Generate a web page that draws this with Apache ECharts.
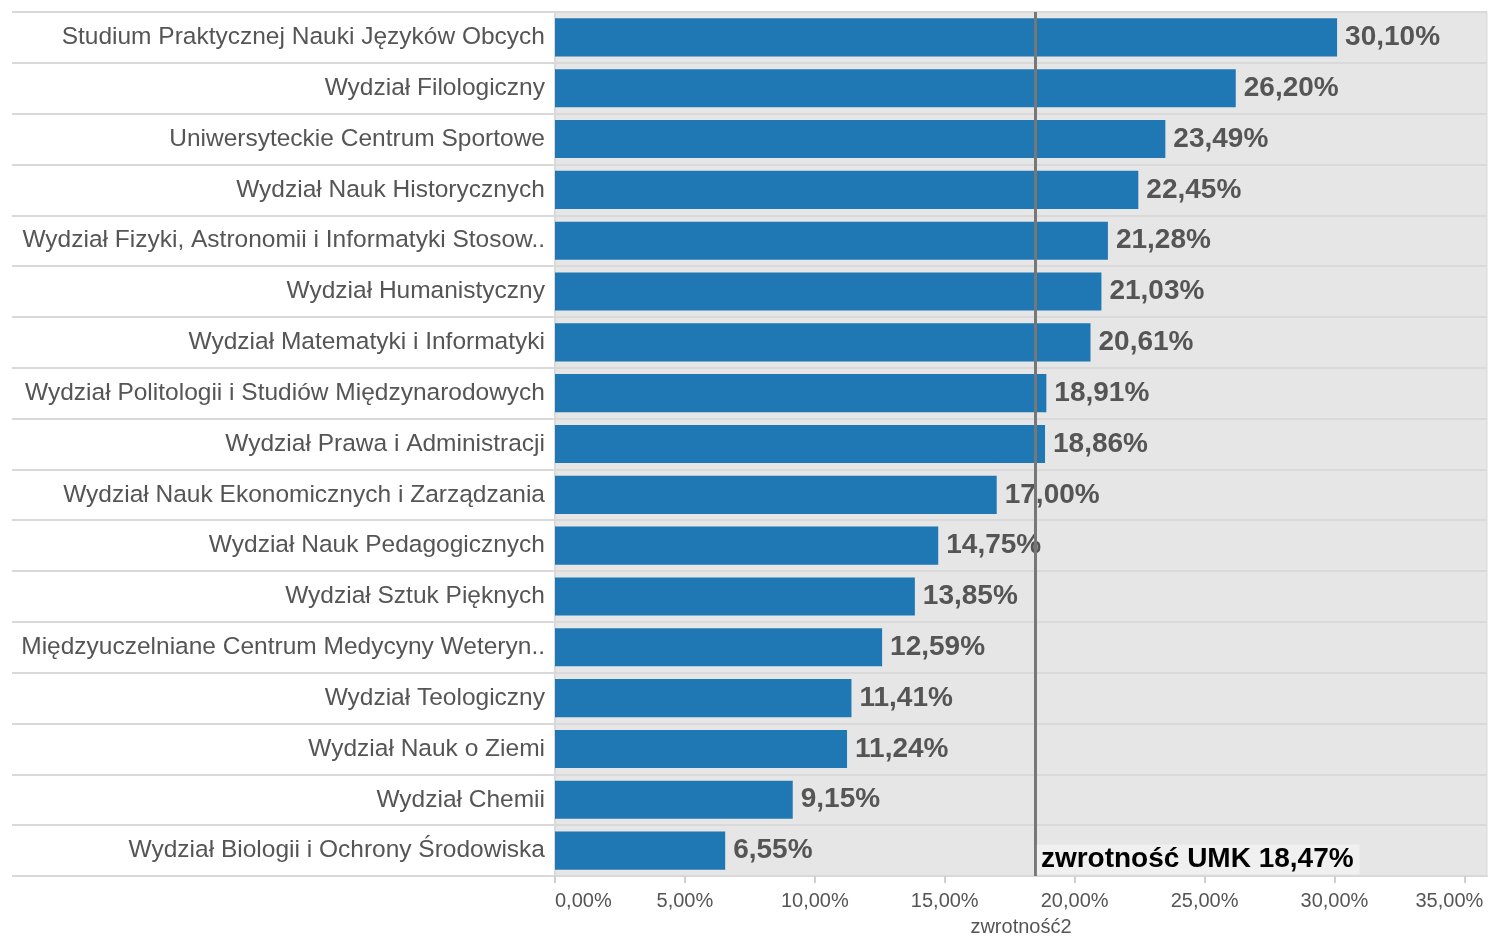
<!DOCTYPE html>
<html>
<head>
<meta charset="utf-8">
<script src="https://cdn.jsdelivr.net/npm/echarts@6/dist/echarts.min.js"></script>
<style>html,body{margin:0;padding:0;background:#fff}#c{width:1488px;height:936px}</style>
</head>
<body>
<div id="c"></div>
<script>
const categories = [
  'Studium Praktycznej Nauki Języków Obcych',
  'Wydział Filologiczny',
  'Uniwersyteckie Centrum Sportowe',
  'Wydział Nauk Historycznych',
  'Wydział Fizyki, Astronomii i Informatyki Stosow..',
  'Wydział Humanistyczny',
  'Wydział Matematyki i Informatyki',
  'Wydział Politologii i Studiów Międzynarodowych',
  'Wydział Prawa i Administracji',
  'Wydział Nauk Ekonomicznych i Zarządzania',
  'Wydział Nauk Pedagogicznych',
  'Wydział Sztuk Pięknych',
  'Międzyuczelniane Centrum Medycyny Weteryn..',
  'Wydział Teologiczny',
  'Wydział Nauk o Ziemi',
  'Wydział Chemii',
  'Wydział Biologii i Ochrony Środowiska'
];
const values = [30.10, 26.20, 23.49, 22.45, 21.28, 21.03, 20.61, 18.91, 18.86, 17.00, 14.75, 13.85, 12.59, 11.41, 11.24, 9.15, 6.55];
const umkValue = 18.47;
const umkLabel = 'zwrotność UMK 18,47%';
const axisName = 'zwrotność2';

const FONT = "'Liberation Sans', Arial, sans-serif";
const fmt = v => v.toFixed(2).replace('.', ',') + '%';

const chart = echarts.init(document.getElementById('c'));
chart.setOption({
  animation: false,
  textStyle: { fontFamily: FONT },
  grid: {
    left: 555, right: 1, top: 12, bottom: 60,
    outerBoundsMode: 'none', containLabel: false,
    show: true, backgroundColor: '#e6e6e6', borderColor: '#d9d9d9', borderWidth: 1
  },
  xAxis: {
    type: 'value', min: 0, max: 35.87, interval: 5,
    name: axisName, nameLocation: 'middle', nameGap: 41,
    nameTextStyle: { fontSize: 20, color: '#555', fontFamily: FONT },
    axisLine: { show: true, lineStyle: { color: '#d9d9d9', width: 2 } },
    axisTick: { show: true, length: 7, lineStyle: { color: '#d0d0d0', width: 2 } },
    splitLine: { show: false },
    axisLabel: {
      fontSize: 20, color: '#555', margin: 15, fontFamily: FONT,
      showMaxLabel: false, alignMinLabel: 'left',
      formatter: v => v === 35 ? '{m|' + fmt(v) + '}' : fmt(v),
      rich: { m: { fontSize: 20, color: '#555', fontFamily: FONT, padding: [0, 30, 0, 0] } }
    }
  },
  yAxis: {
    type: 'category', inverse: true, data: categories,
    axisLine: { show: true, lineStyle: { color: '#d9d9d9', width: 2 } },
    axisTick: { show: true, length: 543, lineStyle: { color: '#d9d9d9', width: 2 } },
    splitLine: { show: true, lineStyle: { color: '#d9d9d9', width: 2 } },
    axisLabel: { fontSize: 24.5, color: '#555', margin: 10, fontFamily: FONT, padding: [2, 0, 0, 0] }
  },
  series: [{
    type: 'bar',
    data: values,
    barCategoryGap: '25%',
    itemStyle: { color: '#1f77b4' },
    label: {
      show: true, position: 'right', distance: 8,
      fontSize: 28, fontWeight: 'bold', color: '#555', fontFamily: FONT,
      formatter: p => fmt(p.value)
    },
    markLine: {
      silent: true, symbol: 'none',
      lineStyle: { color: '#777', width: 3, type: 'solid' },
      label: { show: false },
      data: [{ xAxis: umkValue }]
    },
    markPoint: {
      silent: true, symbol: 'rect', symbolSize: 0,
      label: {
        show: true, position: 'right', distance: 2, offset: [0, 9],
        formatter: umkLabel, fontSize: 28, fontWeight: 'bold', color: '#000',
        fontFamily: FONT, backgroundColor: '#f0f0f0', padding: [2, 6, 0, 4]
      },
      data: [{ coord: [umkValue, categories[categories.length - 1]] }]
    }
  }]
});
</script>
</body>
</html>
